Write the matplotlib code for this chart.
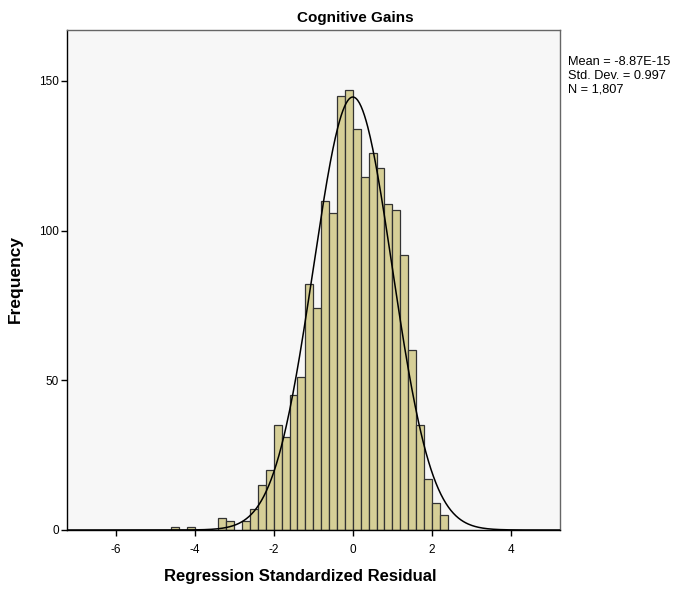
import numpy as np
import matplotlib
matplotlib.use("Agg")
import matplotlib.pyplot as plt

plt.rcParams['font.family'] = ['Liberation Sans', 'DejaVu Sans']

# Histogram data (bin width 0.2)
bin_left = [-4.6, -4.2, -3.4, -3.2, -2.8, -2.6, -2.4, -2.2, -2.0, -1.8, -1.6, -1.4,
            -1.2, -1.0, -0.8, -0.6, -0.4, -0.2, 0.0, 0.2, 0.4, 0.6, 0.8, 1.0,
            1.2, 1.4, 1.6, 1.8, 2.0, 2.2]
counts = [1, 1, 4, 3, 3, 7, 15, 20, 35, 31, 45, 51,
          82, 74, 110, 106, 145, 147, 134, 118, 126, 121, 109, 107,
          92, 60, 35, 17, 9, 5]
bin_width = 0.2

mean_val = -8.87e-15
std_val = 0.997
n_val = 1807

title = "Cognitive Gains"
xlabel = "Regression Standardized Residual"
ylabel = "Frequency"
xticks = [-6, -4, -2, 0, 2, 4]
yticks = [0, 50, 100, 150]
stats_text = "Mean = -8.87E-15\nStd. Dev. = 0.997\nN = 1,807"

fig = plt.figure(figsize=(6.73, 5.89), dpi=100)
ax = fig.add_axes([67/673, 59/589, (560-67)/673, (530-30)/589])
ax.set_facecolor('#f7f7f7')

ax.bar(bin_left, counts, width=bin_width, align='edge', color='#d6cf97',
       edgecolor='#333333', linewidth=0.9, zorder=2)

xs = np.linspace(-7.3, 5.3, 600)
ys = n_val * bin_width / (std_val * np.sqrt(2 * np.pi)) * np.exp(-0.5 * ((xs - mean_val) / std_val) ** 2)
ax.plot(xs, ys, color='black', linewidth=1.1, zorder=3)

ax.set_xlim(-7.23, 5.24)
ax.set_ylim(0, 167)
ax.set_xticks(xticks)
ax.set_xticklabels([str(t) for t in xticks])
ax.set_yticks(yticks)
ax.set_yticklabels([str(t) for t in yticks])
ax.tick_params(axis='both', direction='out', length=4, width=1, labelsize=8.5, colors='black')
ax.tick_params(axis='x', pad=6)
ax.tick_params(axis='y', pad=2)

for s in ['left', 'bottom']:
    ax.spines[s].set_color('black')
    ax.spines[s].set_linewidth(1.0)
for s in ['top', 'right']:
    ax.spines[s].set_color('#666666')
    ax.spines[s].set_linewidth(1.0)

fig.text(355/673, 1 - 18/589, title, ha='center', va='center', fontsize=11, fontweight='bold')
fig.text(300/673, 1 - 577/589, xlabel, ha='center', va='center', fontsize=12, fontweight='bold')
fig.text(15/673, 1 - 279/589, ylabel, ha='center', va='center', rotation=90, fontsize=12.5, fontweight='bold')

fig.text(568/673, 1 - 56/589, stats_text, ha='left', va='top',
         fontsize=9.2, linespacing=1.2)

fig.savefig("out.png", dpi=100)
